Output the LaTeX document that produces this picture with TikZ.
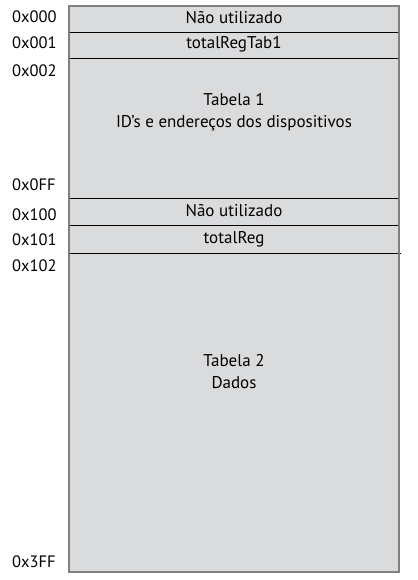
\documentclass[tikz,border=0pt]{standalone}
\usepackage{fontspec}
\setmainfont{PT Sans}
\usepackage{xcolor}
\definecolor{memfill}{RGB}{218,219,221}
\definecolor{memedge}{RGB}{128,128,128}

\begin{document}
\begin{tikzpicture}[x=1pt,y=-1pt,
    addr/.style={anchor=west,inner sep=0pt,font=\fontsize{16.5}{18}\selectfont},
    txt/.style={inner sep=0pt,align=center,font=\fontsize{17}{22}\selectfont}]
			\useasboundingbox (0,0) rectangle (417,580);
			\fill[memfill] (69,6) rectangle (399,572);
			\foreach \y in {32,58.5,198,225} {\draw[thin] (69,\y) -- (399,\y);}
			\draw[thin] (69,253) -- (401,253);
			\draw[memedge,line width=1.2pt] (69,6) rectangle (399,572);
			\foreach \n/\y/\l in {a/17/0x000,b/43/0x001,c/71/0x002,d/185/0x0FF,e/215/0x100,f/240/0x101,g/266/0x102,h/562/0x3FF} {\node[addr] (addr\n) at (12,\y) {\l};}
			\node[txt] (naoA) at (234,18) {Não utilizado};
			\node[txt] (totA) at (234,44) {totalRegTab1};
			\node[txt] (tabA) at (234,112) {Tabela 1\\ID’s e endereços dos dispositivos};
			\node[txt] (naoB) at (234,211) {Não utilizado};
			\node[txt] (totB) at (234,239) {totalReg};
			\node[txt] (tabB) at (234,372) {Tabela 2\\Dados};
		\end{tikzpicture}
\end{document}
